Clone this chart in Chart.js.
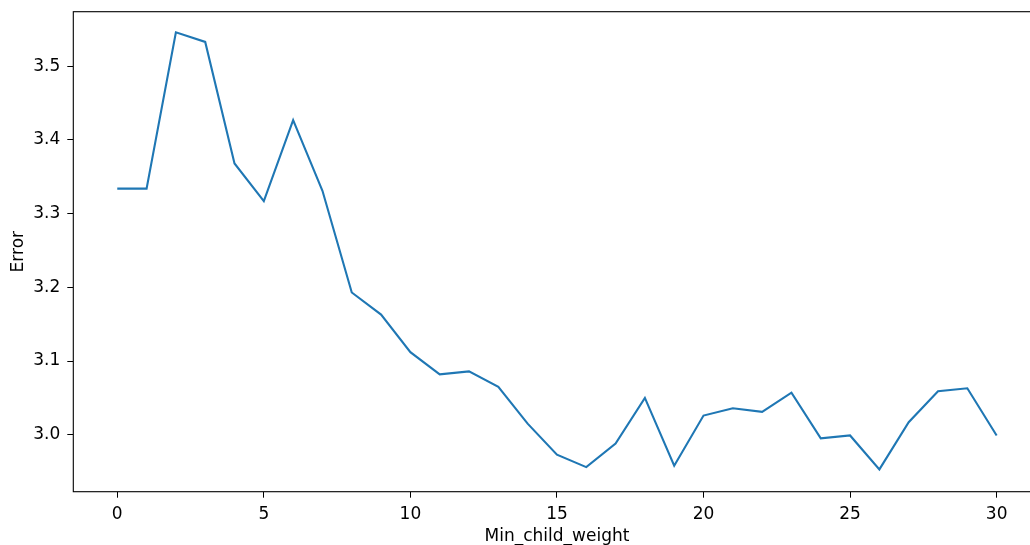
<!DOCTYPE html>
<html>
<head>
<meta charset="utf-8">
<script src="https://cdn.jsdelivr.net/npm/chart.js@4.4.1/dist/chart.umd.min.js"></script>
<style>
  html, body { margin: 0; padding: 0; background: #fff; overflow: hidden; }
  #plot { display: block; }
</style>
</head>
<body>
<canvas id="plot" width="1045" height="560"></canvas>
<script>
// min_child_weight sweep and the error obtained for each value
const weights = [0,1,2,3,4,5,6,7,8,9,10,11,12,13,14,15,16,17,18,19,20,21,22,23,24,25,26,27,28,29,30]
const errors = [3.334,3.334,3.546,3.533,3.368,3.317,3.427,3.331,3.193,3.163,3.112,3.082,3.086,3.065,3.015,2.973,
  2.956,2.988,3.050,2.958,3.026,3.036,3.031,3.057,2.995,2.999,2.953,3.017,3.059,3.063,2.999]

const xTicks = [0,5,10,15,20,25,30]
const yTicks = [3.0,3.1,3.2,3.3,3.4,3.5]

const tickFont = { family: 'DejaVu Sans', size: 17 }

// box around the plot area, like matplotlib spines
const frame = {
  id: 'frame',
  afterDraw(chart) {
    const { ctx, chartArea: a } = chart
    ctx.save()
    ctx.strokeStyle = '#000'
    ctx.lineWidth = 1.1
    ctx.strokeRect(a.left, a.top, a.right - a.left, a.bottom - a.top)
    ctx.restore()
  }
}

const ctx = document.getElementById('plot').getContext('2d')
new Chart(ctx, {
  type: 'line',
  data: {
    datasets: [{
      data: weights.map((w, i) => ({ x: w, y: errors[i] })),
      borderColor: '#1f77b4',
      borderWidth: 2.1,
      pointRadius: 0,
      tension: 0,
      fill: false
    }]
  },
  options: {
    responsive: false,
    animation: false,
    devicePixelRatio: 1,
    layout: { padding: { top: 11.7, right: 4.4, left: 0, bottom: 0 } },
    plugins: { legend: { display: false }, tooltip: { enabled: false } },
    scales: {
      x: {
        type: 'linear',
        min: -1.5,
        max: 31.5,
        afterBuildTicks: axis => { axis.ticks = xTicks.map(v => ({ value: v })) },
        afterFit: axis => {
          axis.height = 68.3
          axis.paddingLeft = 0
          axis.paddingRight = 0
        },
        grid: { drawOnChartArea: false, drawTicks: true, tickLength: 6, color: '#000', lineWidth: 1 },
        border: { display: false },
        ticks: { font: tickFont, color: '#000', padding: 7, maxRotation: 0, callback: v => String(v) },
        title: { display: true, text: 'Min_child_weight', font: tickFont, color: '#000', padding: { top: 0, bottom: 13 } }
      },
      y: {
        min: 2.9227,
        max: 3.574,
        afterBuildTicks: axis => { axis.ticks = yTicks.map(v => ({ value: v })) },
        afterFit: axis => {
          axis.width = 73.3
          axis.paddingTop = 0
          axis.paddingBottom = 0
        },
        grid: { drawOnChartArea: false, drawTicks: true, tickLength: 6, color: '#000', lineWidth: 1 },
        border: { display: false },
        ticks: { font: tickFont, color: '#000', padding: 7, callback: v => v.toFixed(1) },
        title: { display: true, text: 'Error', font: tickFont, color: '#000', padding: { top: 8, bottom: 0 } }
      }
    }
  },
  plugins: [frame]
})
</script>
</body>
</html>
